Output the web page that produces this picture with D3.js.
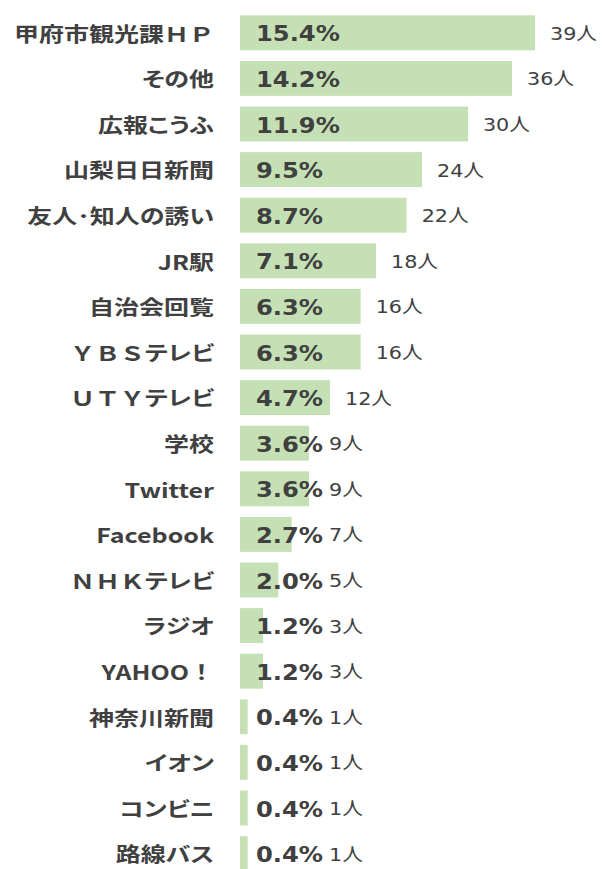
<!DOCTYPE html>
<html>
<head>
<meta charset="utf-8">
<script src="https://cdn.jsdelivr.net/npm/d3@7"></script>
<style>
  html, body { margin: 0; padding: 0; background: #fff; }
  svg { display: block; }
  .kana { font-feature-settings: "palt" 1; }
</style>
</head>
<body>
<div id="container"></div>
<script>
// Data
const categories = ['甲府市観光課ＨＰ', 'その他', '広報こうふ', '山梨日日新聞', '友人･知人の誘い', 'JR駅',
  '自治会回覧', 'ＹＢＳテレビ', 'ＵＴＹテレビ', '学校', 'Twitter', 'Facebook', 'ＮＨＫテレビ',
  'ラジオ', 'YAHOO！', '神奈川新聞', 'イオン', 'コンビニ', '路線バス'];
const percents = [15.4, 14.2, 11.9, 9.5, 8.7, 7.1, 6.3, 6.3, 4.7, 3.6, 3.6, 2.7, 2.0, 1.2, 1.2, 0.4, 0.4, 0.4, 0.4];
const counts = [39, 36, 30, 24, 22, 18, 16, 16, 12, 9, 9, 7, 5, 3, 3, 1, 1, 1, 1];

const rows = categories.map((c, i) => ({ name: c, pct: percents[i], n: counts[i] }));

const width = 606, height = 869;
const barLeft = 240;
const textColor = '#404040';

const svg = d3.select('#container').append('svg')
  .attr('width', width)
  .attr('height', height);

const x = d3.scaleLinear()
  .domain([0, 15.4])
  .range([barLeft, 535]);

const y = d3.scaleBand()
  .domain(categories)
  .range([10, 10 + 45.6 * categories.length])
  .paddingInner(0.234)
  .paddingOuter(0.117);

// bars
svg.selectAll('.bar')
  .data(rows)
  .enter()
  .append('rect')
  .attr('class', 'bar')
  .attr('x', x(0))
  .attr('y', d => y(d.name))
  .attr('width', d => x(d.pct) - x(0))
  .attr('height', y.bandwidth())
  .attr('fill', '#c5e0b4');

// the original picture is stretched horizontally, so text gets a scaleX
function stretchedText(g, tx, ty, anchor, sx, family) {
  return g.append('text')
    .attr('transform', `translate(${tx},${ty}) scale(${sx},1)`)
    .attr('text-anchor', anchor)
    .attr('dominant-baseline', 'central')
    .attr('fill', textColor)
    .style('font-family', family);
}

const rowG = svg.selectAll('.row')
  .data(rows)
  .enter()
  .append('g')
  .attr('class', 'row');

rowG.each(function (d) {
  const g = d3.select(this);
  const cy = y(d.name) + y.bandwidth() / 2;

  // category label, kana runs set proportional like the original font
  const label = stretchedText(g, 214, cy, 'end', 1.25, '"Noto Sans CJK JP", "DejaVu Sans", sans-serif')
    .style('font-size', '20px')
    .style('font-weight', 'bold');
  d.name.split(/([\u3040-\u30ff]+)/).filter(s => s.length).forEach(part => {
    label.append('tspan')
      .attr('class', /[\u3040-\u30ff]/.test(part) ? 'kana' : null)
      .text(part);
  });

  // percentage label
  const pctSx = 1.1;
  const pctText = stretchedText(g, 256, cy + 1, 'start', pctSx, '"DejaVu Sans", sans-serif')
    .style('font-size', '22px')
    .style('font-weight', 'bold')
    .text(d.pct.toFixed(1) + '%');
  const pctEnd = 256 + pctText.node().getComputedTextLength() * pctSx;

  // count label
  const cx = Math.max(x(d.pct) + 15, pctEnd + 6);
  stretchedText(g, cx, cy + 1, 'start', 1.15, '"DejaVu Sans", "Noto Sans CJK JP", sans-serif')
    .style('font-size', '18px')
    .text(d.n + '人');
});
</script>
</body>
</html>
